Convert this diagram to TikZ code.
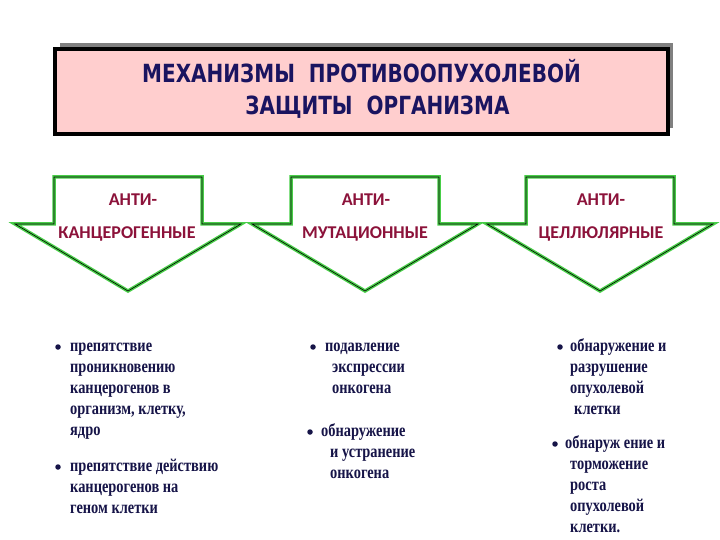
\documentclass[tikz,border=0pt]{standalone}
\usepackage{fontspec}
\setmainfont{Liberation Serif}
\newfontfamily\titlefont[FakeStretch=0.8]{DejaVu Sans}
\newfontfamily\labelfont{Carlito}
\newfontfamily\bodyfont[FakeStretch=0.8]{Liberation Serif}
\usepackage{tikz}
\usetikzlibrary{shadows}

\definecolor{titlenavy}{RGB}{26,20,96}
\definecolor{titlepink}{RGB}{255,206,206}
\definecolor{shadowgray}{RGB}{128,128,128}
\definecolor{labelred}{RGB}{140,18,58}
\definecolor{bodynavy}{RGB}{22,20,72}
\definecolor{arrowgreen}{RGB}{72,206,72}

\begin{document}
\begin{tikzpicture}[
    x=1pt, y=-1pt,
    titlebox/.style={
        draw=black,
        line width=4pt,
        fill=titlepink,
        minimum width=613pt,
        minimum height=85pt,
        inner sep=0pt,
        general shadow={fill=shadowgray, shadow xshift=5pt, shadow yshift=6pt}
    },
    titletext/.style={
        font=\titlefont\bfseries\fontsize{25}{30}\selectfont,
        text=titlenavy,
        inner sep=0pt,
        anchor=base
    },
    armlabel/.style={
        font=\labelfont\bfseries\fontsize{18}{22}\selectfont,
        text=labelred,
        inner sep=0pt,
        anchor=base
    },
    itemtext/.style={
        font=\bodyfont\bfseries\fontsize{18}{21}\selectfont,
        text=bodynavy,
        align=left,
        inner sep=0pt,
        anchor=north west
    },
    bulletdot/.style={
        circle,
        fill=bodynavy,
        inner sep=0pt,
        minimum size=5.5pt
    },
    pics/downarrow/.style={code={
        \draw[fill=white, draw=arrowgreen, line width=3.5pt,
              postaction={draw=black, line width=0.6pt}]
            (-74,0) -- (74,0) -- (74,47) -- (113,47) -- (0,114)
            -- (-113,47) -- (-74,47) -- cycle;
    }}
]
\fill[white] (0,0) rectangle (720,540);
\useasboundingbox (0,0) rectangle (720,540);

% Заголовок
\node[titlebox] (title) at (361.5,91.5) {};
\node[titletext] (titleA) at (361.5,83) {МЕХАНИЗМЫ\ \ ПРОТИВООПУХОЛЕВОЙ};
\node[titletext] (titleB) at (377.5,115) {ЗАЩИТЫ\ \ ОРГАНИЗМА};

% Стрелки
\pic (arrcarc) at (128,177) {downarrow};
\pic (arrmut) at (365,177) {downarrow};
\pic (arrcell) at (600,177) {downarrow};

\node[armlabel] (carcA) at (133,206) {АНТИ-};
\node[armlabel] (carcB) at (127,238) {КАНЦЕРОГЕННЫЕ};
\node[armlabel] (mutA) at (366,206) {АНТИ-};
\node[armlabel] (mutB) at (365,238) {МУТАЦИОННЫЕ};
\node[armlabel] (cellA) at (601,206) {АНТИ-};
\node[armlabel] (cellB) at (601,238) {ЦЕЛЛЮЛЯРНЫЕ};

% Антиканцерогенные
\node[bulletdot] (carcdotA) at (58,347) {};
\node[itemtext] (carcitemA) at (70,336.3) {\strut препятствие\\проникновению\\канцерогенов в\\организм, клетку,\\ядро};
\node[bulletdot] (carcdotB) at (58,467) {};
\node[itemtext] (carcitemB) at (70,456.3) {\strut препятствие действию\\канцерогенов на\\геном клетки};

% Антимутационные
\node[bulletdot] (mutdotA) at (313,347) {};
\node[itemtext] (mutitemA) at (325,336.3) {\strut подавление\\\hspace*{7pt}экспрессии\\\hspace*{7pt}онкогена};
\node[bulletdot] (mutdotB) at (310,432) {};
\node[itemtext] (mutitemB) at (321,421.3) {\strut обнаружение\\\hspace*{9pt}и устранение\\\hspace*{9pt}онкогена};

% Антицеллюлярные
\node[bulletdot] (celldotA) at (560,347) {};
\node[itemtext] (cellitemA) at (570,336.3) {\strut обнаружение и\\разрушение\\опухолевой\\\hspace*{4pt}клетки};
\node[bulletdot] (celldotB) at (555,444) {};
\node[itemtext] (cellitemB) at (565,433.3) {\strut обнаруж ение и\\\hspace*{5pt}торможение\\\hspace*{5pt}роста\\\hspace*{5pt}опухолевой\\\hspace*{5pt}клетки.};

\end{tikzpicture}
\end{document}
